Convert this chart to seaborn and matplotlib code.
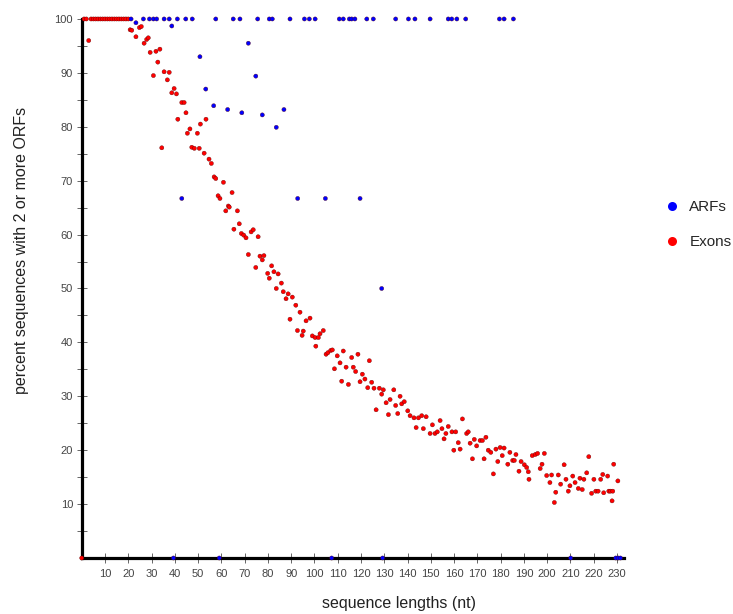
import numpy as np
import pandas as pd
import seaborn as sns
import matplotlib.pyplot as plt
from matplotlib.lines import Line2D

# STYLE
sns.set_theme(style="white")
plt.rcParams['font.family'] = ['Liberation Sans', 'DejaVu Sans']

# DATA
exon_len = [0, 1, 2, 3, 4, 5, 6, 7, 8, 9, 10, 11, 12, 13, 14, 15, 16, 17, 18, 19, 20,
            20.8, 21.5, 23.3, 24.8, 25.6, 26.8, 27.9, 28.6, 29.4, 30.8, 31.9, 32.7, 33.6, 34.4,
            35.4, 36.8, 37.6, 38.7, 39.7, 40.7, 41.3, 43.0, 44.0, 44.8, 45.4, 46.5, 47.3, 48.4,
            49.7, 51.0, 50.5, 52.6, 53.4, 54.7, 55.7, 56.9, 57.6, 58.6, 59.4, 60.9, 61.9, 63.0,
            63.4, 64.6, 65.4, 66.9, 67.7, 68.6, 69.6, 70.6, 71.6, 72.8, 73.7, 74.8, 75.8, 76.6,
            77.6, 78.3, 79.9, 80.6, 81.6, 82.6, 83.6, 84.4, 85.8, 86.6, 87.8, 88.7, 89.5, 90.5,
            92.0, 92.7, 93.8, 94.7, 95.2, 96.4, 98.1, 99.1, 100.3, 100.6, 101.7, 102.4, 103.8,
            105.0, 105.8, 107.0, 107.7, 108.6, 109.8, 111.0, 111.7, 112.4, 113.6, 114.6, 116.0,
            116.7, 117.7, 118.7, 119.6, 120.6, 121.7, 122.9, 123.6, 124.6, 125.6, 126.5, 127.9,
            128.9, 129.6, 130.8, 131.8, 132.5, 134.1, 134.9, 135.8, 136.8, 137.5, 138.6, 140.1,
            141.1, 142.8, 143.7, 144.7, 146.1, 146.8, 148.0, 149.7, 150.7, 151.8, 152.8, 154.0,
            154.8, 155.7, 156.5, 157.5, 159.1, 159.9, 160.7, 161.8, 162.6, 163.6, 165.4, 166.1,
            166.9, 167.9, 168.7, 169.7, 171.2, 172.2, 172.9, 173.7, 174.7, 175.8, 176.9, 178.0,
            178.8, 179.8, 180.7, 181.5, 183.1, 184.0, 185.2, 185.9, 186.6, 187.9, 188.8, 190.2,
            191.2, 191.9, 192.2, 193.6, 194.9, 195.9, 197.0, 197.8, 198.8, 199.8, 201.2, 201.9,
            203.1, 203.7, 204.8, 205.8, 207.3, 208.1, 209.1, 209.8, 211.0, 212.0, 213.4, 214.1,
            215.1, 215.8, 217.0, 217.9, 219.1, 220.1, 220.9, 221.9, 223.0, 223.9, 224.3, 226.0,
            226.5, 227.2, 227.9, 228.2, 228.6, 230.4]
exon_pct = [0, 100, 100, 96.0, 100, 100, 100, 100, 100, 100, 100, 100, 100, 100, 100, 100, 100, 100, 100, 100, 100,
            98.0, 97.9, 96.7, 98.4, 98.6, 95.5, 96.2, 96.5, 93.8, 89.5, 94.0, 92.0, 94.4, 76.1,
            90.2, 88.7, 90.1, 86.3, 87.1, 86.1, 81.4, 84.5, 84.5, 82.6, 78.8, 79.6, 76.2, 76.0,
            78.8, 80.5, 76.0, 75.1, 81.4, 74.0, 73.2, 70.7, 70.4, 67.2, 66.7, 69.7, 64.4, 65.3,
            65.1, 67.8, 61.0, 64.4, 62.0, 60.2, 59.9, 59.4, 56.3, 60.5, 60.9, 53.9, 59.6, 56.0,
            55.3, 56.1, 52.8, 51.9, 54.2, 53.1, 50.0, 52.7, 51.0, 49.4, 48.1, 49.0, 44.3, 48.4,
            46.9, 42.2, 45.6, 41.3, 42.1, 44.0, 44.5, 41.2, 40.9, 39.3, 40.9, 41.6, 42.2,
            37.8, 38.1, 38.5, 38.6, 35.1, 37.5, 36.2, 32.8, 38.4, 35.4, 32.2, 37.2,
            35.4, 34.6, 37.8, 32.7, 34.1, 33.2, 31.6, 36.6, 32.6, 31.5, 27.5, 31.5,
            30.4, 31.2, 28.8, 26.6, 29.4, 31.2, 28.3, 26.8, 30.0, 28.6, 29.0, 27.3,
            26.4, 26.0, 24.2, 26.0, 26.4, 24.0, 26.2, 23.1, 24.7, 23.1, 23.4, 25.5,
            24.0, 22.1, 23.1, 24.4, 23.4, 20.0, 23.4, 21.4, 20.2, 25.8, 23.1, 23.4,
            21.3, 18.4, 22.0, 20.8, 21.8, 21.8, 18.4, 22.4, 20.0, 19.6, 15.6, 20.2,
            17.9, 20.5, 19.0, 20.4, 17.4, 19.6, 18.1, 18.1, 19.2, 16.1, 17.9, 17.3,
            16.8, 16.0, 14.6, 19.0, 19.2, 19.4, 16.6, 17.4, 19.4, 15.3, 14.0, 15.4,
            10.3, 12.2, 15.4, 13.7, 17.3, 14.6, 12.4, 13.4, 15.2, 14.0, 12.9, 14.8,
            12.7, 14.6, 15.8, 18.8, 12.0, 14.6, 12.4, 12.4, 14.6, 15.5, 12.1, 15.2,
            12.4, 12.4, 10.6, 12.4, 17.4, 14.3]

arf_len = [21.2, 23.3, 26.5, 29.1, 30.8, 32.2, 35.4, 37.6, 41.1, 44.7, 47.5, 57.6, 65.1, 68.0,
           75.6, 80.6, 81.9, 89.5, 95.7, 97.8, 100.3, 110.7, 112.4, 115.0, 116.0, 117.4, 122.5,
           125.3, 134.9, 140.4, 143.2, 149.7, 157.5, 159.0, 161.2, 165.0, 179.5, 181.5, 185.5,
           38.7, 71.6, 50.8, 74.8, 53.3, 56.7, 62.7, 68.8, 77.6, 86.9, 83.6,
           43.0, 92.8, 104.7, 119.6, 128.9,
           39.4, 59.1, 107.4, 129.3, 210.1, 229.5, 230.5, 231.5]
arf_pct = [100, 99.3, 100, 100, 100, 100, 100, 100, 100, 100, 100, 100, 100, 100,
           100, 100, 100, 100, 100, 100, 100, 100, 100, 100, 100, 100, 100,
           100, 100, 100, 100, 100, 100, 100, 100, 100, 100, 100, 100,
           98.7, 95.5, 93.0, 89.4, 87.0, 83.9, 83.2, 82.6, 82.2, 83.2, 79.9,
           66.7, 66.7, 66.7, 66.7, 50.0,
           0, 0, 0, 0, 0, 0, 0, 0]

series_names = ['ARFs', 'Exons']
series_colors = ['#0000ff', '#ff0000']
x_ticks = [10, 20, 30, 40, 50, 60, 70, 80, 90, 100, 110, 120, 130, 140, 150, 160,
           170, 180, 190, 200, 210, 220, 230]
y_ticks = [10, 20, 30, 40, 50, 60, 70, 80, 90, 100]
y_minor = [5, 15, 25, 35, 45, 55, 65, 75, 85, 95]

df = pd.concat([
    pd.DataFrame({'length': exon_len, 'percent': exon_pct, 'set': 'Exons'}),
    pd.DataFrame({'length': arf_len, 'percent': arf_pct, 'set': 'ARFs'}),
], ignore_index=True)

palette = dict(zip(series_names, series_colors))

# PLOT
fig = plt.figure(figsize=(7.33, 6.14), dpi=100)
ax = fig.add_axes([0.1115, 0.0912, 0.7397, 0.8779])

sns.scatterplot(data=df, x='length', y='percent', hue='set', palette=palette,
                hue_order=['Exons', 'ARFs'], s=9, linewidth=0.25, edgecolor='#550000',
                legend=False, clip_on=False, zorder=3, ax=ax)

ax.set_xlim(0, 233)
ax.set_ylim(0, 100)
for side in ['top', 'right']:
    ax.spines[side].set_visible(False)
for side in ['left', 'bottom']:
    ax.spines[side].set_linewidth(2.3)
    ax.spines[side].set_color('black')

ax.set_xticks(x_ticks)
ax.set_yticks(y_ticks)
ax.set_yticks(y_minor, minor=True)
ax.tick_params(axis='both', which='both', direction='inout', length=6.5, width=0.7,
               color='#666666', labelsize=8, labelcolor='#444444')
ax.tick_params(axis='x', pad=5)
ax.tick_params(axis='y', pad=3)
ax.tick_params(axis='x', which='both', bottom=True)
ax.tick_params(axis='y', which='both', left=True)
for lab in ax.get_xticklabels() + ax.get_yticklabels():
    lab.set_family(['Liberation Sans Narrow', 'Liberation Sans', 'DejaVu Sans'])

ax.set_xlabel('sequence lengths (nt)', fontsize=11.5, color='#222222')
ax.set_ylabel('percent sequences with 2 or more ORFs', fontsize=11.5, color='#222222')
ax.xaxis.set_label_coords(0.585, -0.070)
ax.yaxis.set_label_coords(-0.097, 0.571)
ax.grid(False)

handles = [Line2D([], [], marker='o', linestyle='', markersize=6.5,
                  markerfacecolor=c, markeredgewidth=0) for c in series_colors]
fig.legend(handles, series_names, loc='center left', bbox_to_anchor=(0.907, 0.634),
           frameon=False, fontsize=11, handlelength=1, handletextpad=0.6,
           labelspacing=1.35, borderpad=0, borderaxespad=0)

plt.savefig('out.png', dpi=100)
